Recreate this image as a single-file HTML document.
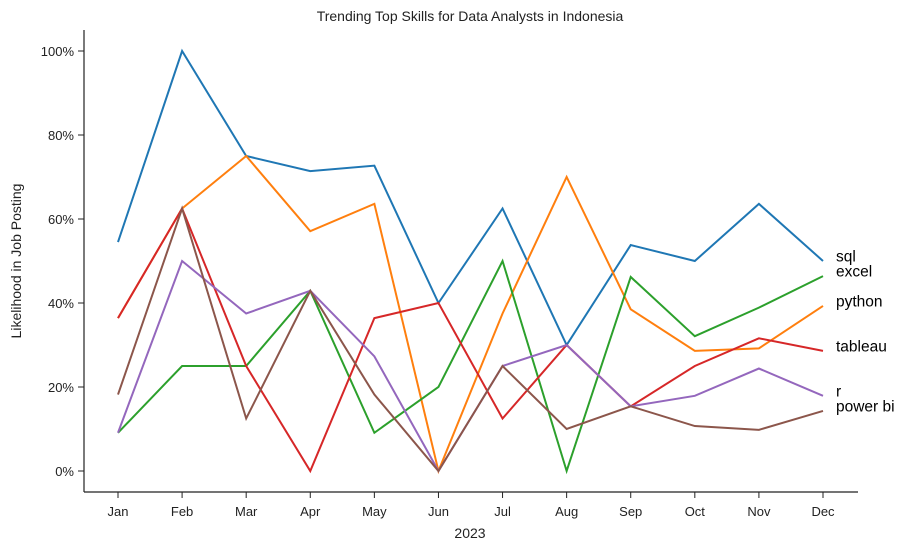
<!DOCTYPE html>
<html><head><meta charset="utf-8"><style>
body{margin:0;background:#fff;}
svg{display:block;font-family:"Liberation Sans","DejaVu Sans",sans-serif;}
</style></head><body>
<svg id="chart" width="908" height="550">
<text x="470" y="21" text-anchor="middle" font-size="14" fill="#222">Trending Top Skills for Data Analysts in Indonesia</text>
<g id="axes"></g>
<g id="series"></g>
</svg>
<script>
const months=["Jan","Feb","Mar","Apr","May","Jun","Jul","Aug","Sep","Oct","Nov","Dec"];
const yTicks=[0,20,40,60,80,100];
const seriesNames=["sql","python","excel","tableau","r","power bi"];
const sqlVals=[54.5,100,75,71.4,72.7,40,62.5,30,53.8,50,63.6,50];
const pythonVals=[36.4,62.5,75,57.1,63.6,0,37.5,70,38.5,28.6,29.2,39.3];
const excelVals=[9.1,25,25,42.9,9.1,20,50,0,46.2,32.1,38.9,46.4];
const tableauVals=[36.4,62.5,25,0,36.4,40,12.5,30,15.4,25,31.6,28.6];
const rVals=[9.1,50,37.5,42.9,27.3,0,25,30,15.4,17.9,24.4,17.9];
const powerbiVals=[18.2,62.5,12.5,42.9,18.2,0,25,10,15.4,10.7,9.8,14.3];
const colors=["#1f77b4","#ff7f0e","#2ca02c","#d62728","#9467bd","#8c564b"];
const allVals=[sqlVals,pythonVals,excelVals,tableauVals,rVals,powerbiVals];
const NS="http://www.w3.org/2000/svg";
const X=i=>118+i*(823-118)/(months.length-1);
const Y=v=>471-v*4.2;
function mk(tag,attrs,parent){const e=document.createElementNS(NS,tag);for(const k in attrs)e.setAttribute(k,attrs[k]);parent.appendChild(e);return e;}
const ax=document.getElementById('axes');
let l=mk('line',{x1:84,y1:492,x2:858,y2:492,stroke:'#222','stroke-width':1.2},ax);


l=mk('line',{x1:84,y1:30,x2:84,y2:492,stroke:'#222','stroke-width':1.2},ax);


months.forEach((m,i)=>{
 mk('line',{x1:X(i),y1:492,x2:X(i),y2:498,stroke:'#222'},ax);
 const t=mk('text',{x:X(i),y:516,'text-anchor':'middle','font-size':13,fill:'#222'},ax);t.textContent=m;
 
 
});
yTicks.forEach(v=>{
 mk('line',{x1:78,y1:Y(v),x2:84,y2:Y(v),stroke:'#222'},ax);
 const t=mk('text',{x:74,y:Y(v)+5,'text-anchor':'end','font-size':13,fill:'#222'},ax);t.textContent=v+'%';
 
 
});
let t=mk('text',{x:470,y:538,'text-anchor':'middle','font-size':14,fill:'#222'},ax);t.textContent='2023';


t=mk('text',{x:0,y:0,'text-anchor':'middle','font-size':14,fill:'#222',transform:'translate(21,261) rotate(-90)'},ax);t.textContent='Likelihood in Job Posting';


const sg=document.getElementById('series');
allVals.forEach((vals,s)=>{
 const p=mk('polyline',{points:vals.map((v,i)=>X(i)+','+Y(v)).join(' '),fill:'none',stroke:colors[s],'stroke-width':2},sg);
 
 
 const lb=mk('text',{x:836,y:Y(vals[vals.length-1])+0.5,'font-size':15.5,fill:'#000'},sg);lb.textContent=seriesNames[s];
 
 
});
</script>
</body></html>
